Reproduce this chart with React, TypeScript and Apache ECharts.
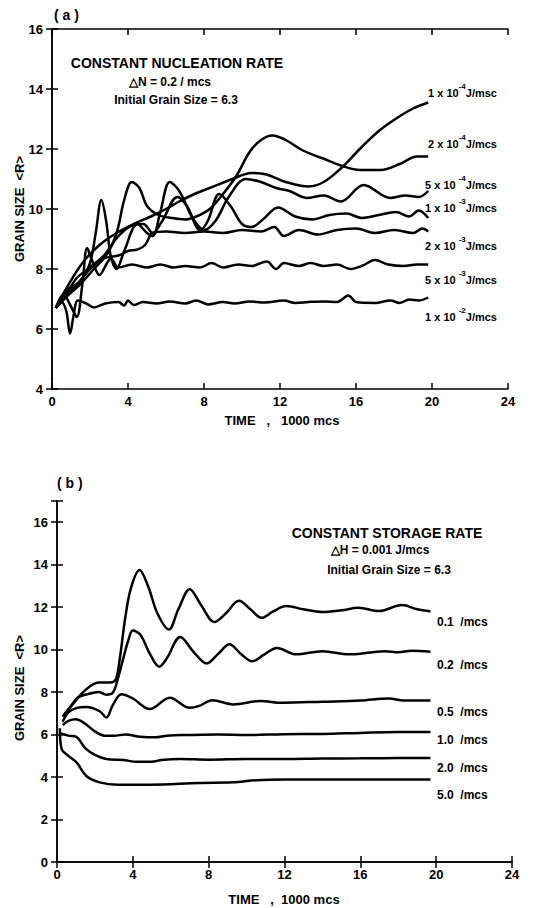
import React, { useEffect, useRef } from "react";
import * as echarts from "echarts";

// ---------- Panel (a): constant nucleation rate ----------
const curveA_1e4: number[][] = [[0.2,6.7],[0.8,7.4],[1.6,8.2],[2.5,8.8],[3.4,9.2],[4.3,9.5],[5.2,9.75],[6,10.0],[6.7,10.25],[7.5,10.5],[8.3,10.7],[9.5,11.0],[10.5,11.2],[11.3,11.15],[12.3,10.9],[13.5,10.75],[14.3,10.9],[15.2,11.35],[16.2,12.0],[17.2,12.6],[18.2,13.05],[19,13.35],[19.8,13.55]];
const curveA_2e4: number[][] = [[0.2,6.7],[0.8,7.1],[1.5,7.5],[2.2,8.0],[2.9,8.5],[3.4,9.2],[3.8,10.3],[4.2,10.9],[4.6,10.7],[5.0,10.1],[5.6,9.8],[6.3,9.7],[7.0,9.65],[7.6,9.75],[8.3,10.0],[9.0,10.5],[9.7,11.1],[10.4,11.9],[11.0,12.3],[11.6,12.45],[12.3,12.3],[13.2,11.95],[14.2,11.7],[15.2,11.45],[16.2,11.3],[17.3,11.3],[18.3,11.5],[19.2,11.75],[19.8,11.75]];
const curveA_5e4: number[][] = [[0.2,6.7],[0.8,7.2],[1.5,7.6],[2.0,8.2],[2.3,9.2],[2.6,10.3],[2.85,9.6],[3.1,8.4],[3.4,8.0],[3.8,8.6],[4.5,9.5],[5.0,9.2],[5.3,9.1],[5.7,9.9],[6.2,10.9],[6.7,10.6],[7.4,9.7],[8.0,9.3],[8.6,9.6],[9.3,10.4],[10.2,11.0],[11.0,10.9],[11.8,10.7],[12.5,10.6],[13.4,10.37],[14.3,10.45],[15.2,10.25],[16.4,10.8],[17.8,10.37],[18.6,10.45],[19.3,10.4],[19.8,10.6]];
const curveA_1e3: number[][] = [[0.2,6.7],[0.8,7.3],[1.3,7.5],[2.0,8.0],[2.8,8.5],[3.5,9.1],[4.2,9.45],[4.8,9.5],[5.3,9.2],[5.8,9.6],[6.6,10.4],[7.1,10.1],[7.8,9.3],[8.2,9.6],[8.8,10.5],[9.4,10.1],[10.0,9.5],[10.5,9.4],[11.1,9.65],[11.9,10.05],[12.8,9.75],[13.7,9.65],[14.6,9.8],[15.5,9.85],[16.3,9.7],[17.2,9.8],[18.1,9.9],[18.8,9.75],[19.3,9.95],[19.8,9.7]];
const curveA_2e3: number[][] = [[0.2,6.7],[0.7,7.1],[1.3,7.7],[1.9,8.0],[2.5,8.3],[3.0,8.4],[3.5,8.45],[4.0,8.6],[4.5,8.65],[4.9,8.8],[5.3,9.2],[6,9.25],[7,9.2],[8,9.25],[9,9.2],[10,9.3],[11,9.25],[11.7,9.4],[12.2,9.1],[13,9.3],[14,9.15],[15,9.3],[16,9.35],[17,9.2],[18,9.3],[19,9.2],[19.5,9.35],[19.8,9.25]];
const curveA_5e3: number[][] = [[0.2,6.7],[0.6,7.15],[1.0,6.75],[1.3,6.4],[1.6,7.5],[1.85,8.7],[2.1,8.3],[2.5,7.8],[2.9,8.2],[3.1,8.35],[3.5,8.05],[4.2,8.15],[5.0,8.05],[5.7,8.15],[6.4,8.05],[7.0,8.1],[7.8,8.05],[8.4,8.2],[9.0,8.05],[9.8,8.15],[10.5,8.1],[11.3,8.25],[11.8,8.0],[12.2,8.2],[13,8.1],[13.6,8.2],[14.3,8.1],[15,8.15],[15.7,8.0],[16.3,8.1],[17.0,8.3],[17.7,8.15],[18.5,8.1],[19.2,8.15],[19.8,8.15]];
const curveA_1e2: number[][] = [[0.2,6.7],[0.5,6.9],[0.75,6.6],[0.95,5.85],[1.15,6.5],[1.35,6.95],[1.8,6.85],[2.2,6.72],[2.8,6.85],[3.5,6.9],[3.8,6.78],[4.0,6.95],[4.3,6.8],[4.8,6.9],[5.5,6.85],[6.2,6.92],[7.0,6.85],[7.6,6.95],[8.2,6.82],[9.0,6.9],[9.6,6.85],[10.4,6.92],[11.2,6.88],[12.2,6.95],[12.8,6.87],[13.5,6.9],[14.3,6.92],[15.0,6.9],[15.6,7.12],[16.0,6.9],[17.0,6.87],[17.8,6.95],[18.3,6.87],[18.8,6.98],[19.3,6.95],[19.8,7.05]];

// ---------- Panel (b): constant storage rate ----------
const curveB_01: number[][] = [[0.3,6.85],[0.8,7.4],[1.5,8.1],[2.2,8.45],[2.8,8.45],[3.1,8.6],[3.3,9.5],[3.6,11.5],[3.9,12.9],[4.35,13.75],[4.8,13.0],[5.3,11.7],[5.9,10.95],[6.4,11.9],[7.0,12.85],[7.6,12.1],[8.3,11.3],[8.9,11.7],[9.6,12.3],[10.2,11.9],[10.8,11.5],[11.4,11.8],[12.1,12.05],[13,11.9],[14,11.77],[15,11.85],[15.9,11.97],[17,11.82],[18.2,12.1],[19,11.9],[19.7,11.8]];
const curveB_02: number[][] = [[0.3,6.85],[0.7,7.3],[1.1,7.75],[1.6,7.9],[2.2,8.0],[2.6,7.88],[2.95,7.98],[3.2,8.6],[3.5,9.6],[3.75,10.4],[4.0,10.9],[4.4,10.7],[4.9,9.8],[5.4,9.2],[5.8,9.6],[6.5,10.6],[7.2,9.9],[7.9,9.35],[8.5,9.8],[9.1,10.25],[9.7,9.8],[10.3,9.45],[10.9,9.75],[11.6,10.08],[12.6,9.78],[14,9.93],[15.4,9.78],[16.4,9.85],[17.3,9.93],[18.0,9.88],[18.7,9.95],[19.7,9.9]];
const curveB_05: number[][] = [[0.3,6.6],[0.6,7.05],[1.05,7.26],[1.55,7.3],[2.25,7.1],[2.6,6.8],[2.95,7.4],[3.4,7.9],[4.0,7.7],[4.9,7.2],[5.95,7.74],[7.0,7.26],[7.5,7.35],[8.2,7.62],[9.3,7.42],[10.7,7.58],[11.9,7.5],[14,7.55],[16,7.6],[17.5,7.7],[18.3,7.6],[19.7,7.6]];
const curveB_10: number[][] = [[0.3,6.45],[0.6,6.65],[1.0,6.72],[1.5,6.5],[2.0,6.15],[2.5,5.95],[3.0,5.95],[3.6,6.0],[4.4,5.9],[5.2,5.87],[5.8,5.95],[7,5.98],[8.5,6.0],[10,5.98],[12,6.02],[14,6.03],[16,6.08],[18,6.12],[19.7,6.12]];
const curveB_20: number[][] = [[0.2,6.05],[0.6,5.95],[1.0,5.9],[1.5,5.35],[2.0,5.05],[2.6,4.85],[3.5,4.8],[4.2,4.72],[5.0,4.72],[5.5,4.8],[6.5,4.85],[8,4.82],[10,4.85],[12,4.85],[14,4.87],[16,4.88],[18,4.9],[19.7,4.9]];
const curveB_50: number[][] = [[0.15,6.3],[0.25,5.3],[0.6,5.0],[1.05,4.67],[1.55,4.05],[2.25,3.75],[3.2,3.64],[4.9,3.64],[7.5,3.72],[9.3,3.75],[10.5,3.85],[12,3.88],[16,3.88],[19.7,3.88]];

// tick values
const xTicks = [0, 4, 8, 12, 16, 20, 24];
const yRangeA = [4, 16];
const yRangeB = [0, 17];

// curve labels
const labelsA = [
  { pre: "1 x 10", sup: "-4", post: "J/msc" },
  { pre: "2 x 10", sup: "-4", post: "J/mcs" },
  { pre: "5 x 10 ", sup: "-4", post: "J/mcs" },
  { pre: "1 x 10 ", sup: "-3", post: "J/mcs" },
  { pre: "2 x 10 ", sup: "-3", post: "J/mcs" },
  { pre: "5 x 10 ", sup: "-3", post: "J/mcs" },
  { pre: "1 x 10 ", sup: "-2", post: "J/mcs" },
];
const labelsB = ["0.1  /mcs", "0.2  /mcs", "0.5  /mcs", "1.0  /mcs", "2.0  /mcs", "5.0  /mcs"];

const FONT = "'Liberation Sans', Arial, Helvetica, sans-serif";

export default function App() {
  const ref = useRef<HTMLDivElement>(null);
  useEffect(() => {
    if (!ref.current) return;
    const chart = echarts.init(ref.current, undefined, { renderer: "svg" });
    const black = "#000";
    const lab = { color: black, fontFamily: FONT, fontWeight: "bold" as const, fontSize: 13 };
    const line = { show: true, lineStyle: { color: black, width: 1.5 } };
    const tick = { show: true, inside: true, length: 6, lineStyle: { color: black, width: 1.5 } };
    const mkX = (grid: number, pos: string, showLabel: boolean) => ({
      type: "value", gridIndex: grid, position: pos, min: xTicks[0], max: xTicks[xTicks.length - 1], interval: 4,
      axisLine: line, axisTick: tick, splitLine: { show: false },
      axisLabel: { show: showLabel, ...lab, margin: 6 },
    });
    const mkY = (grid: number, pos: string, showLabel: boolean, range: number[]) => ({
      type: "value", gridIndex: grid, position: pos, min: range[0], max: range[1], interval: 2,
      axisLine: line, axisTick: tick, splitLine: { show: false },
      axisLabel: { show: showLabel, ...lab, margin: 9, formatter: (v: number) => (v % 2 === 0 ? String(v) : "") },
    });
    const mkSeries = (data: number[][], ai: number) => ({
      type: "line", data, xAxisIndex: ai, yAxisIndex: ai, smooth: 0.35, showSymbol: false,
      lineStyle: { color: black, width: 2.5 }, silent: true,
    });
    const txt = (x: number, y: number, text: string, size: number, align = "left", extra: any = {}) => ({
      type: "text", x, y, style: { text, fill: black, font: `bold ${size}px ${FONT}`, textAlign: align, textVerticalAlign: "middle", ...extra },
    });
    const supText = (x: number, y: number, l: { pre: string; sup: string; post: string }) => ({
      type: "text", x, y,
      style: {
        text: `{a|${l.pre}}{s|${l.sup}}{a|${l.post}}`,
        textAlign: "right", textVerticalAlign: "middle",
        rich: {
          a: { fontSize: 11, fontWeight: "bold", fontFamily: FONT, fill: black, lineHeight: 16, verticalAlign: "bottom" },
          s: { fontSize: 8, fontWeight: "bold", fontFamily: FONT, fill: black, lineHeight: 8, verticalAlign: "top" },
        },
      },
    });
    const labelYA = [90, 141, 182, 205, 243, 277, 314];
    const labelYB = [622, 665, 712, 740, 768, 795];
    const graphics: any[] = [
      txt(54, 15, "( a )", 14),
      txt(177, 63, "CONSTANT NUCLEATION RATE", 14, "center"),
      txt(170, 82, "△N = 0.2 / mcs", 12, "center"),
      txt(176, 100, "Initial Grain Size = 6.3", 12, "center"),
      txt(282, 420, "TIME   ,   1000 mcs", 13, "center"),
      { ...txt(19, 209, "GRAIN SIZE  <R>", 13, "center"), rotation: Math.PI / 2 },
      txt(57, 483, "( b )", 14),
      txt(387, 533, "CONSTANT STORAGE RATE", 14, "center"),
      txt(380, 550, "△H = 0.001 J/mcs", 12, "center"),
      txt(389, 570, "Initial Grain Size = 6.3", 12, "center"),
      txt(284, 899, "TIME   ,  1000 mcs", 13, "center"),
      { ...txt(19, 688, "GRAIN SIZE  <R>", 13, "center"), rotation: Math.PI / 2 },
      ...labelsA.map((l, i) => supText(497, labelYA[i], l)),
      ...labelsB.map((l, i) => txt(437, labelYB[i], l, 12)),
    ];
    chart.setOption({
      animation: false,
      backgroundColor: "#fff",
      grid: [
        { left: 52, top: 29, width: 456, height: 360 },
        { left: 57, top: 501, width: 455, height: 361 },
      ],
      xAxis: [mkX(0, "bottom", true), mkX(0, "top", false), mkX(1, "bottom", true), mkX(1, "top", false)],
      yAxis: [mkY(0, "left", true, yRangeA), mkY(0, "right", false, yRangeA), mkY(1, "left", true, yRangeB), mkY(1, "right", false, yRangeB)],
      series: [
        mkSeries(curveA_1e4, 0), mkSeries(curveA_2e4, 0), mkSeries(curveA_5e4, 0), mkSeries(curveA_1e3, 0),
        mkSeries(curveA_2e3, 0), mkSeries(curveA_5e3, 0), mkSeries(curveA_1e2, 0),
        mkSeries(curveB_01, 2), mkSeries(curveB_02, 2), mkSeries(curveB_05, 2), mkSeries(curveB_10, 2),
        mkSeries(curveB_20, 2), mkSeries(curveB_50, 2),
      ],
      graphic: graphics,
    });
    return () => chart.dispose();
  }, []);
  return <div ref={ref} style={{ position: "absolute", left: 0, top: 0, width: 552, height: 908 }} />;
}
